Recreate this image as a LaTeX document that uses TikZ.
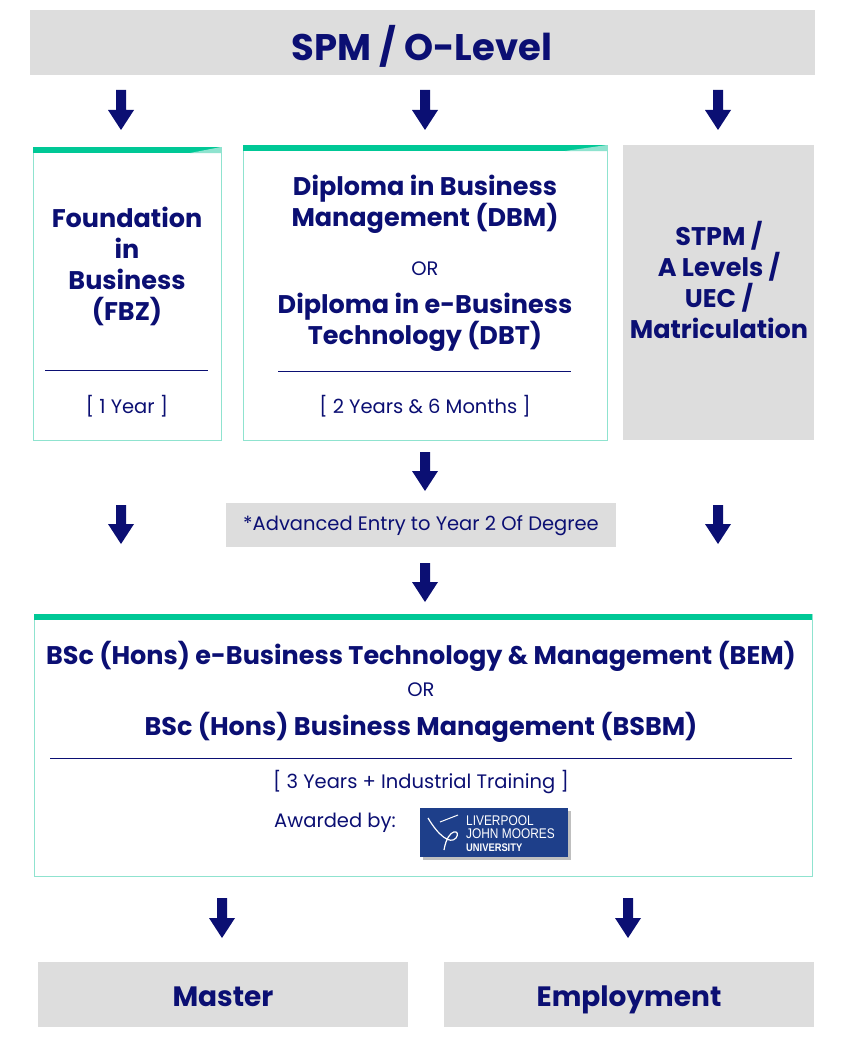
\documentclass[tikz,border=0pt]{standalone}
\usepackage{fontspec}
\setmainfont{Poppins}
\newfontfamily\lsans{Liberation Sans}
\definecolor{navy}{HTML}{0B0F73}
\definecolor{gbox}{HTML}{DDDDDD}
\definecolor{teal}{HTML}{00C896}
\definecolor{tealb}{HTML}{8FE3CF}
\definecolor{ljmu}{HTML}{1E3F8A}
\begin{document}
\begin{tikzpicture}[x=1pt,y=-1pt,
  txt/.style={text=navy,align=center,font=\fontsize{25.5}{31}\selectfont\bfseries},
  sm/.style={text=navy,align=center,font=\fontsize{19.5}{22}\selectfont},
  wbox/.style={draw=tealb,line width=1pt,fill=white},
  gray/.style={fill=gbox,draw=none}]
\useasboundingbox (0,0) rectangle (842,1046);
\newcommand{\darr}[3]{\fill[navy] (#1-5,#2) -- (#1+5,#2) -- (#1+5,#3-20) -- (#1+13,#3-20) -- (#1,#3) -- (#1-13,#3-20) -- (#1-5,#3-20) -- cycle;}
% top
\fill[gray] (30,10) rectangle (815,75);
\node[txt,font=\fontsize{37}{40}\selectfont\bfseries] (top) at (422,46) {SPM / O-Level};
\darr{121}{90}{130}\darr{425}{90}{130}\darr{718}{90}{130}
% FBZ
\draw[wbox] (33,147) rectangle (221,440);
\fill[teal] (33,147) rectangle (221,153);
\fill[tealb] (190,153) -- (221,147) -- (221,153) -- cycle;
\node[txt] (fbz) at (127,266) {Foundation\\in\\Business\\(FBZ)};
\draw[navy,line width=0.8pt] (45,370) -- (208,370);
\node[sm] (fbzy) at (127,406) {[ 1 Year ]};
% Diploma
\draw[wbox] (243,145) rectangle (607,440);
\fill[teal] (243,145) rectangle (607,151);
\fill[tealb] (565,151) -- (607,145) -- (607,151) -- cycle;
\node[txt] (dbm) at (425,204) {Diploma in Business\\Management (DBM)};
\node[sm] (or1) at (425,269) {OR};
\node[txt] (dbt) at (425,322) {Diploma in e-Business\\Technology (DBT)};
\draw[navy,line width=0.8pt] (278,371) -- (571,371);
\node[sm] (dipy) at (425,406) {[ 2 Years \& 6 Months ]};
% STPM
\fill[gray] (623,145) rectangle (814,440);
\node[txt] (stpm) at (719,280) {STPM /\\A Levels /\\UEC /\\Matriculation};
\darr{425}{452}{491}\darr{121}{505}{544}\darr{718}{505}{544}
\fill[gray] (226,503) rectangle (616,547);
\node[sm] (adv) at (421,526) {*Advanced Entry to Year 2 Of Degree};
\darr{425}{563}{602}
% BSc
\draw[wbox] (34,614) rectangle (812,876);
\fill[teal] (34,614) rectangle (812,620);
\node[txt] (bem) at (421,656) {BSc (Hons) e-Business Technology \& Management (BEM)};
\node[sm] (or2) at (421,690) {OR};
\node[txt] (bsbm) at (421,727) {BSc (Hons) Business Management (BSBM)};
\draw[navy,line width=0.8pt] (50,758) -- (792,758);
\node[sm] (dur) at (421,782) {[ 3 Years + Industrial Training ]};
\node[sm] (aw) at (335,823) {Awarded by:};
\fill[black!25] (423,811) rectangle (571,860);
\fill[ljmu] (420,808) rectangle (568,857);
\draw[white,line width=1.2pt] (428,818) .. controls (438,835) and (450,845) .. (456,838) .. controls (462,830) and (448,826) .. (444,850);
\draw[white,line width=1pt] (440,822) -- (458,815);
\node[text=white,align=left,font=\lsans\fontsize{14}{13}\selectfont,inner sep=0pt,anchor=west,xscale=0.85,transform shape] (ljmu) at (466,827) {LIVERPOOL\\JOHN MOORES};
\node[text=white,font=\lsans\bfseries\fontsize{11}{10}\selectfont,inner sep=0pt,anchor=west,xscale=0.85,transform shape] (univ) at (466,848) {UNIVERSITY};
\darr{222}{898}{938}\darr{628}{898}{938}
\fill[gray] (38,962) rectangle (408,1027);
\fill[gray] (444,962) rectangle (814,1027);
\node[txt,anchor=base,font=\fontsize{28}{31}\selectfont\bfseries] (mas) at (223,1006) {Master};
\node[txt,anchor=base,font=\fontsize{28}{31}\selectfont\bfseries] (emp) at (629,1006) {Employment};
\end{tikzpicture}
\end{document}
